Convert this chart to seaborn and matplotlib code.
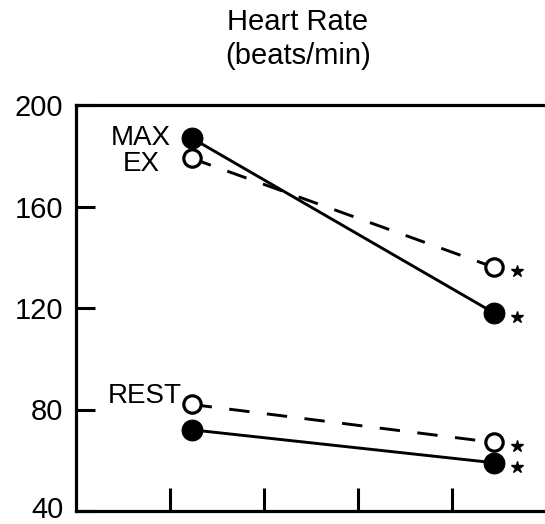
import matplotlib
matplotlib.use("Agg")
import matplotlib.pyplot as plt
import matplotlib.transforms as mtransforms
import numpy as np
import pandas as pd
import seaborn as sns

# Two measurement sessions (x position on the session axis)
sessions = [1.23, 4.45]

# Heart rate (beats/min), filled symbols / solid line group
solid_max_ex = [187, 118]
solid_rest = [72, 59]
# Heart rate (beats/min), open symbols / dashed line group
dashed_max_ex = [179, 136]
dashed_rest = [82, 67]

y_ticks = [40, 80, 120, 160, 200]
x_ticks = [1, 2, 3, 4]

rows = []
for cond, vals in (("MAX EX", solid_max_ex), ("REST", solid_rest)):
    for x, v in zip(sessions, vals):
        rows.append(dict(session=x, hr=v, condition=cond, group="filled"))
for cond, vals in (("MAX EX", dashed_max_ex), ("REST", dashed_rest)):
    for x, v in zip(sessions, vals):
        rows.append(dict(session=x, hr=v, condition=cond, group="open"))
df = pd.DataFrame(rows)

sns.set_style("white")
plt.rcParams["font.family"] = ["Liberation Sans", "DejaVu Sans"]
plt.rcParams["text.color"] = "black"
plt.rcParams["ytick.color"] = "black"
plt.rcParams["xtick.color"] = "black"

fig = plt.figure(figsize=(5.45, 5.24), dpi=100)
ax = fig.add_axes([76 / 545, 13 / 524, 1 - 76 / 545, (511 - 105) / 524])

for cond in ("MAX EX", "REST"):
    d = df[(df.condition == cond) & (df.group == "open")]
    sns.lineplot(data=d, x="session", y="hr", ax=ax, color="black",
                 linewidth=2.1, linestyle=(0, (7, 6)), marker="o",
                 markersize=12.5, markerfacecolor="white",
                 markeredgecolor="black", markeredgewidth=2.3,
                 sort=False, zorder=3)
    d = df[(df.condition == cond) & (df.group == "filled")]
    sns.lineplot(data=d, x="session", y="hr", ax=ax, color="black",
                 linewidth=2.1, marker="o", markersize=15,
                 markerfacecolor="black", markeredgecolor="black",
                 sort=False, zorder=4)

# significance stars beside the second-session values
star_tr = mtransforms.offset_copy(ax.transData, fig=fig, x=23, y=-4, units="dots")
last = [solid_max_ex[1], dashed_max_ex[1], solid_rest[1], dashed_rest[1]]
ax.plot([sessions[1]] * len(last), last, linestyle="none", marker="*",
        markersize=9, color="black", transform=star_tr, clip_on=False)

ax.text(0.69, 182, "MAX\nEX", ha="center", va="center", fontsize=20,
        linespacing=1.0, color="black")
ax.text(1.12, 85.5, "REST", ha="right", va="center", fontsize=20,
        color="black")

ax.set_xlim(0, 4.99)
ax.set_ylim(40, 200)
ax.set_yticks(y_ticks)
# the lowest label sits just above the frame corner, drawn separately below
ax.set_yticklabels(["" if v == y_ticks[0] else str(v) for v in y_ticks])
ax.set_xticks(x_ticks)
ax.set_xticklabels([])
ax.set_xlabel("")
ax.set_ylabel("")

for side in ("left", "bottom", "top"):
    ax.spines[side].set_linewidth(2.3)
    ax.spines[side].set_color("black")
ax.spines["right"].set_visible(False)

ax.tick_params(axis="y", direction="in", length=14, width=2.2, pad=9,
               labelsize=21, left=True, labelcolor="black")
ax.tick_params(axis="x", direction="in", length=16.5, width=2.2,
               bottom=True, labelbottom=False)
for lab in ax.get_yticklabels():
    lab.set_va("center_baseline")

ax.annotate(str(y_ticks[0]), xy=(0, y_ticks[0]),
            xycoords=("axes fraction", "data"), xytext=(-9, -5),
            textcoords="offset points", ha="right", va="baseline",
            fontsize=21, color="black", annotation_clip=False)

fig.text(298 / 545, 1 - 22 / 524, "Heart Rate", ha="center", va="center",
         fontsize=21, color="black")
fig.text(298 / 545, 1 - 56 / 524, "(beats/min)", ha="center", va="center",
         fontsize=21, color="black")

fig.savefig("out.png", dpi=100)
